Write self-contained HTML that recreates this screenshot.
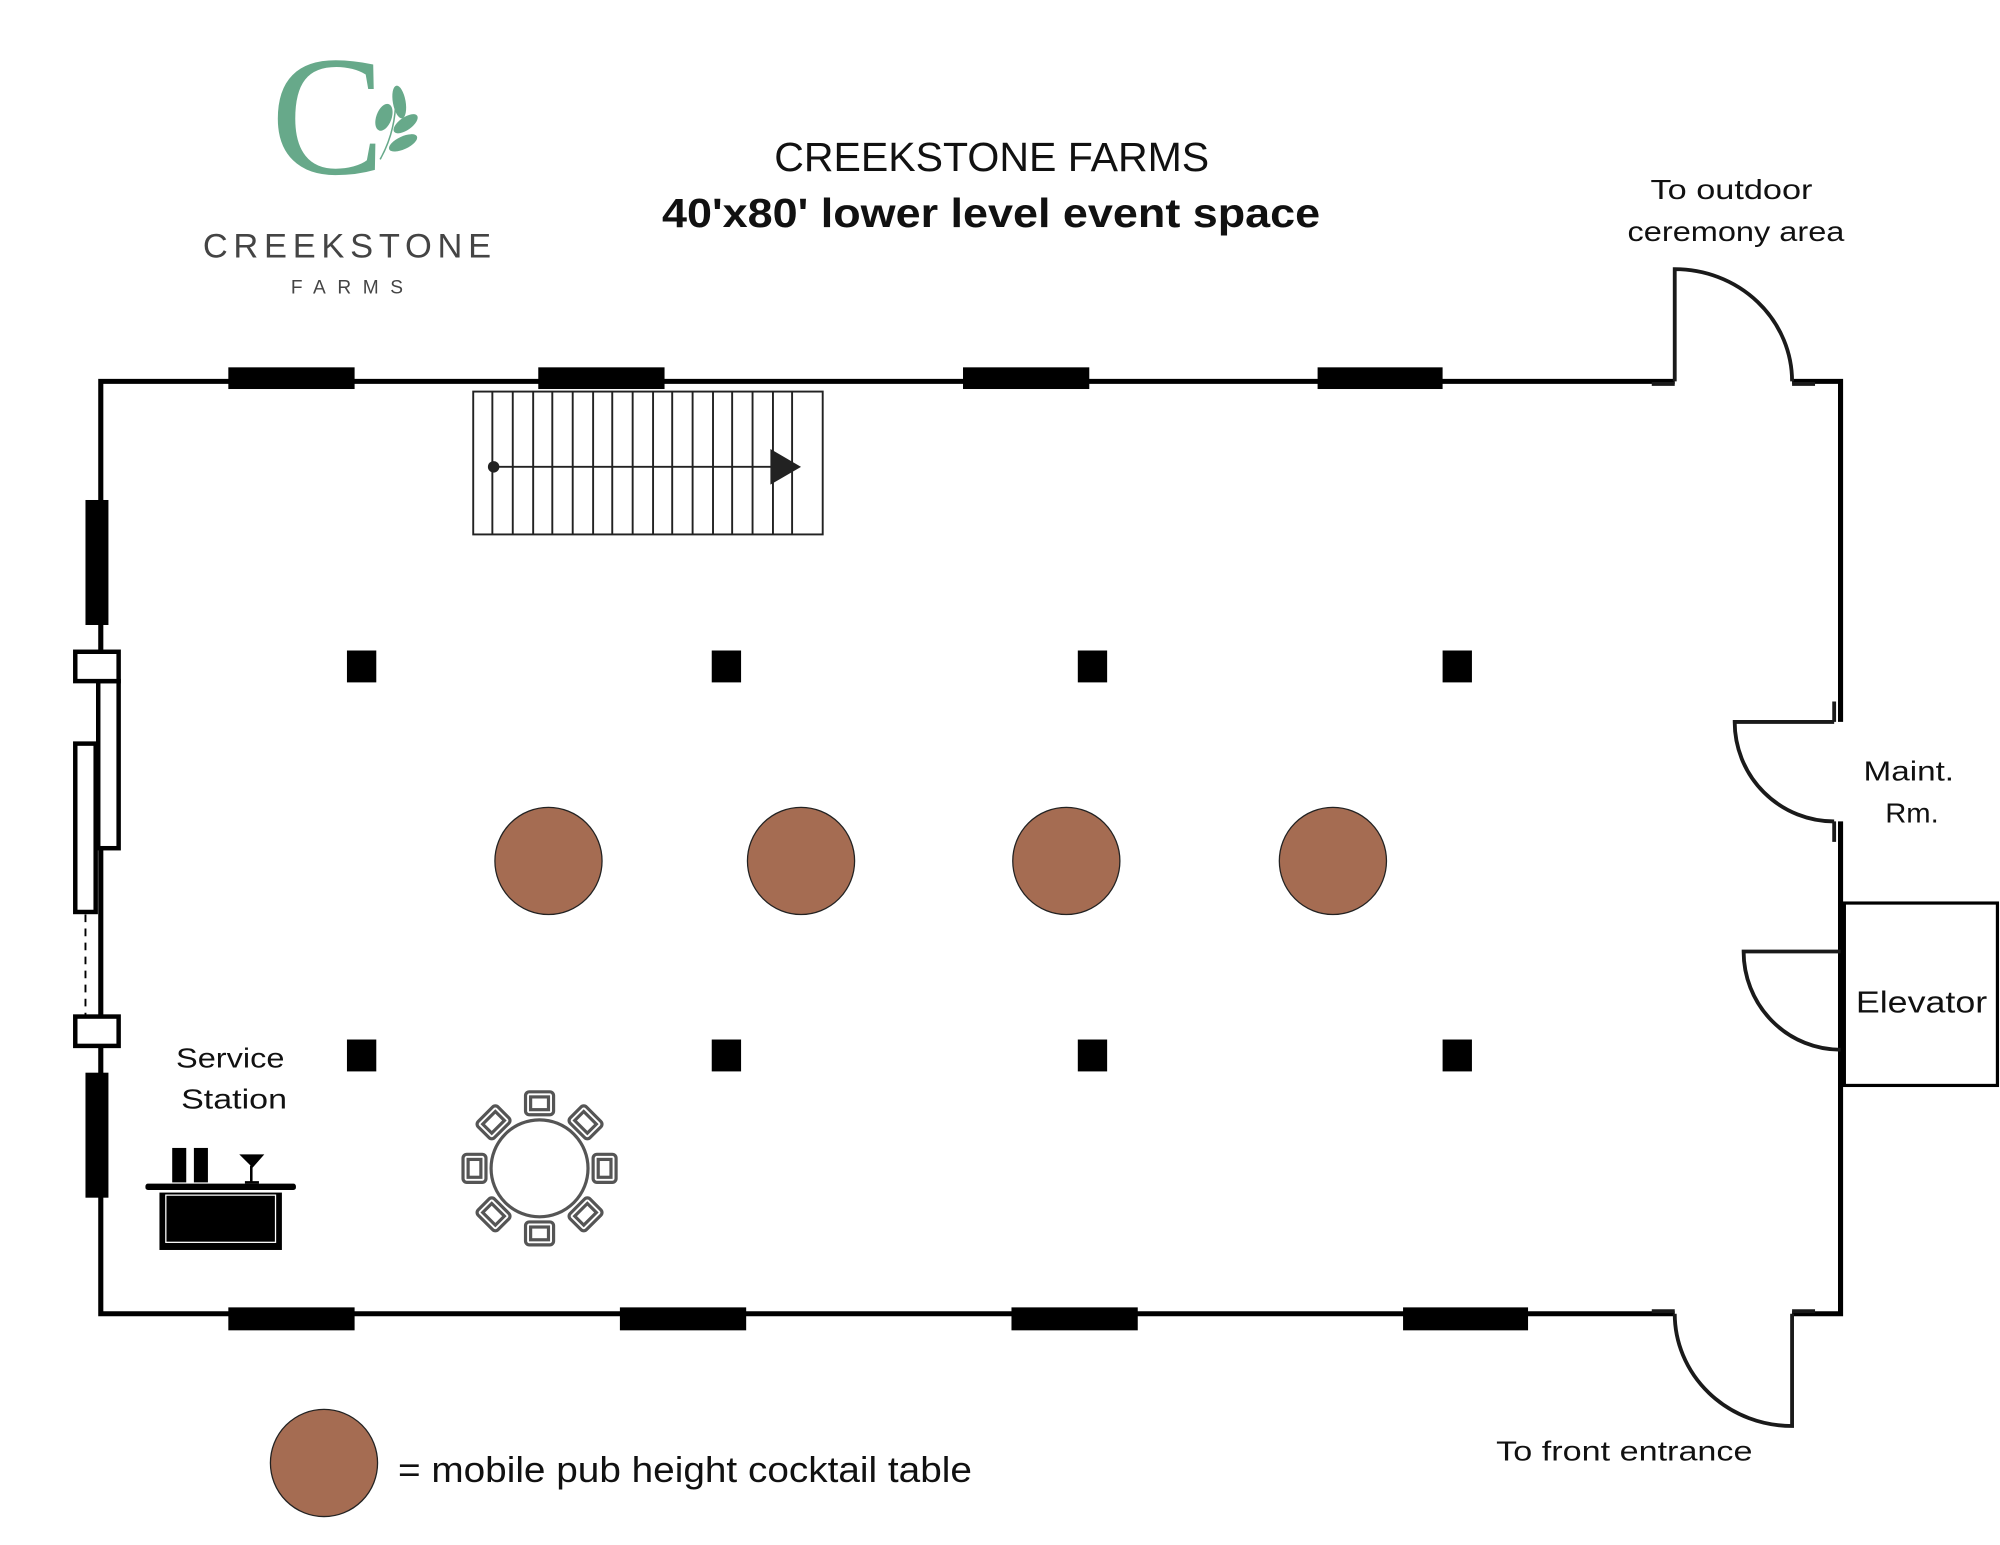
<!DOCTYPE html>
<html><head><meta charset="utf-8"><style>
html,body{margin:0;padding:0;background:#fff;}
svg{display:block;}
text{font-family:"Liberation Sans",sans-serif;}
</style></head><body>
<svg width="2000" height="1545" viewBox="0 0 1568 1211.3" xmlns="http://www.w3.org/2000/svg">
<rect width="1568" height="1212" fill="#fff"/>
<!-- logo -->
<text x="257" y="136" style="font-family:'Liberation Serif',serif" font-size="134" fill="#67a98a" text-anchor="middle">C</text>
<g fill="#67a98a">
<ellipse cx="313" cy="80" rx="5" ry="13" transform="rotate(-10 313 80)"/>
<ellipse cx="301" cy="92" rx="6" ry="11" transform="rotate(20 301 92)"/>
<ellipse cx="318" cy="97" rx="5" ry="11" transform="rotate(55 318 97)"/>
<ellipse cx="316" cy="112" rx="5" ry="12" transform="rotate(65 316 112)"/>
</g>
<path d="M310 70 Q312 100 298 125" stroke="#67a98a" stroke-width="1.2" fill="none"/>
<text x="159" y="202" font-size="27" fill="#444" textLength="226" lengthAdjust="spacing">CREEKSTONE</text>
<text x="228" y="230" font-size="15" fill="#444" textLength="88" lengthAdjust="spacing">FARMS</text>
<!-- title -->
<text x="607" y="134" font-size="32" fill="#111" textLength="341" lengthAdjust="spacingAndGlyphs">CREEKSTONE FARMS</text>
<text x="519" y="178" font-size="32" font-weight="bold" fill="#111" textLength="516" lengthAdjust="spacingAndGlyphs">40'x80' lower level event space</text>
<text x="1294" y="156" font-size="22" fill="#111" textLength="127" lengthAdjust="spacingAndGlyphs">To outdoor</text>
<text x="1276" y="189" font-size="22" fill="#111" textLength="170" lengthAdjust="spacingAndGlyphs">ceremony area</text>
<!-- walls -->
<g stroke="#000" stroke-width="4" fill="none">
<path d="M1313 299 H79 V1030 H1313"/>
<path d="M1405 299 H1443 V566"/>
<path d="M1443 644 V1030 H1405"/>
</g>
<!-- windows -->
<g fill="#000">
<rect x="179" y="288" width="99" height="17"/><rect x="422" y="288" width="99" height="17"/>
<rect x="755" y="288" width="99" height="17"/><rect x="1033" y="288" width="98" height="17"/>
<rect x="179" y="1025" width="99" height="18"/><rect x="486" y="1025" width="99" height="18"/>
<rect x="793" y="1025" width="99" height="18"/><rect x="1100" y="1025" width="98" height="18"/>
<rect x="67" y="392" width="18" height="98"/><rect x="67" y="841" width="18" height="98"/>
</g>
<!-- left sliding door -->
<g stroke="#000" stroke-width="3.5" fill="#fff">
<rect x="77" y="534" width="16" height="131"/>
<rect x="59" y="583" width="16" height="132"/>
<rect x="59" y="511" width="34" height="23"/>
<rect x="59" y="797" width="34" height="23"/>
</g>
<line x1="67" y1="717" x2="67" y2="796" stroke="#000" stroke-width="1.5" stroke-dasharray="6,5"/>
<!-- doors -->
<g stroke="#1a1a1a" stroke-width="3" fill="none">
<path d="M1313 299 V211 A92 88 0 0 1 1405 299"/>
<path d="M1295 301 H1313 M1405 301 H1423"/>
<path d="M1405 1030 V1118 A92 88 0 0 1 1313 1030"/>
<path d="M1295 1028 H1313 M1405 1028 H1423"/>
<path d="M1438 566 H1360 A78 78 0 0 0 1438 644"/>
<path d="M1438 550 V566 M1438 644 V660"/>
<path d="M1443 746 H1367 A76 77 0 0 0 1443 823"/>
</g>
<rect x="1446" y="708" width="120" height="143" fill="#fff" stroke="#000" stroke-width="2.5"/>
<text x="1455" y="794" font-size="24" fill="#111" textLength="103" lengthAdjust="spacingAndGlyphs">Elevator</text>
<text x="1461" y="612" font-size="22" fill="#111" textLength="71" lengthAdjust="spacingAndGlyphs">Maint.</text>
<text x="1478" y="645" font-size="22" fill="#111" textLength="42" lengthAdjust="spacingAndGlyphs">Rm.</text>
<text x="1173" y="1145" font-size="22" fill="#111" textLength="201" lengthAdjust="spacingAndGlyphs">To front entrance</text>
<!-- stairs -->
<g stroke="#222" stroke-width="1.5" fill="none">
<rect x="371" y="307" width="274" height="112"/>
<path d="M386 307V419 M402 307V419 M418 307V419 M433 307V419 M449 307V419 M465 307V419 M480 307V419 M496 307V419 M512 307V419 M527 307V419 M543 307V419 M559 307V419 M574 307V419 M590 307V419 M606 307V419 M621 307V419"/>
<line x1="387" y1="366" x2="606" y2="366"/>
</g>
<circle cx="387" cy="366" r="4.5" fill="#222"/>
<polygon points="604,352 628,366 604,380" fill="#222"/>
<!-- columns -->
<g fill="#000">
<rect x="272" y="510" width="23" height="25"/><rect x="558" y="510" width="23" height="25"/>
<rect x="845" y="510" width="23" height="25"/><rect x="1131" y="510" width="23" height="25"/>
<rect x="272" y="815" width="23" height="25"/><rect x="558" y="815" width="23" height="25"/>
<rect x="845" y="815" width="23" height="25"/><rect x="1131" y="815" width="23" height="25"/>
</g>
<!-- cocktail tables -->
<g fill="#a56c52" stroke="#222" stroke-width="1">
<circle cx="430" cy="675" r="42"/><circle cx="628" cy="675" r="42"/>
<circle cx="836" cy="675" r="42"/><circle cx="1045" cy="675" r="42"/>
<circle cx="254" cy="1147" r="42"/>
</g>
<text x="312" y="1162" font-size="28" fill="#111" textLength="450" lengthAdjust="spacingAndGlyphs">= mobile pub height cocktail table</text>
<!-- service station -->
<text x="138" y="837" font-size="22" fill="#111" textLength="85" lengthAdjust="spacingAndGlyphs">Service</text>
<text x="142" y="869" font-size="22" fill="#111" textLength="83" lengthAdjust="spacingAndGlyphs">Station</text>
<rect x="114" y="928" width="118" height="5" rx="2" fill="#000"/>
<rect x="125" y="935" width="96" height="45" fill="#000"/>
<rect x="130" y="937" width="86" height="37" fill="none" stroke="#fff" stroke-width="1"/>
<rect x="135" y="900" width="11" height="27" fill="#000"/>
<rect x="152" y="900" width="11" height="27" fill="#000"/>
<path d="M190 906 H205 L198 914 Z M197 914 V926 M192 927 H203" stroke="#000" stroke-width="2" fill="#000"/>
<!-- round table with chairs -->
<g stroke="#555" stroke-width="2.5" fill="#fff">
<circle cx="423" cy="916" r="38"/>
<g id="ch"><rect x="412" y="856" width="22" height="18" rx="3"/><rect x="416" y="860" width="14" height="10"/></g>
<use href="#ch" transform="rotate(45 423 916)"/>
<use href="#ch" transform="rotate(90 423 916)"/>
<use href="#ch" transform="rotate(135 423 916)"/>
<use href="#ch" transform="rotate(180 423 916)"/>
<use href="#ch" transform="rotate(225 423 916)"/>
<use href="#ch" transform="rotate(270 423 916)"/>
<use href="#ch" transform="rotate(315 423 916)"/>
</g>
</svg>
</body></html>
